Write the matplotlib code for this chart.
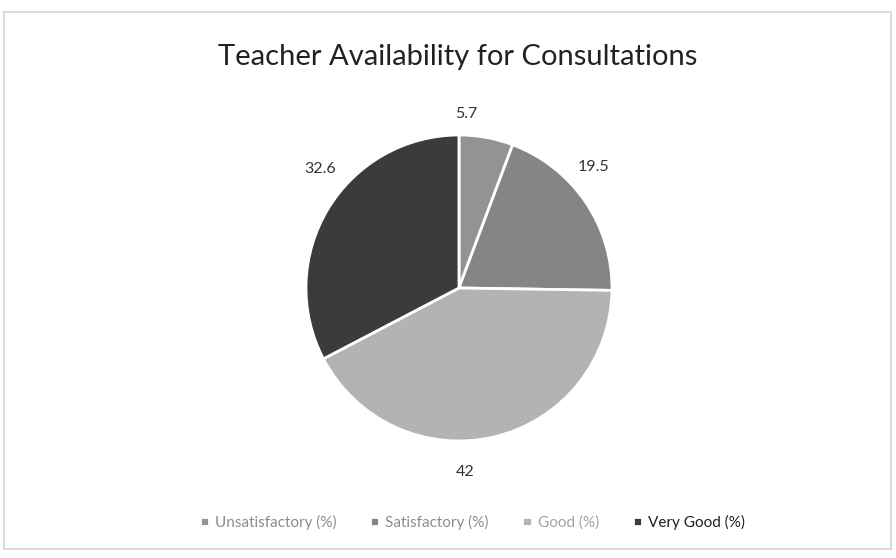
#!/usr/bin/env python3
"""Pie chart: teacher availability for consultations (percent of responses)."""
import matplotlib.pyplot as plt
from matplotlib.patches import Rectangle

categories = ["Unsatisfactory (%)", "Satisfactory (%)", "Good (%)", "Very Good (%)"]
values = [5.7, 19.5, 42, 32.6]
value_labels = ["5.7", "19.5", "42", "32.6"]

colors = ["#939393", "#858585", "#b3b3b3", "#3b3b3b"]
legend_text_colors = ["#8c8c8c", "#8c8c8c", "#a3a3a3", "#1e1e1e"]
# label anchor points in axes data units (pie radius = 1), as Excel placed them
label_xy = [(0.05, 1.14), (0.88, 0.79), (0.04, -1.20), (-0.91, 0.78)]

plt.rcParams["font.family"] = ["Lato", "DejaVu Sans"]

fig = plt.figure(figsize=(8.96, 5.58), dpi=100)
fig.patch.set_facecolor("white")
fig.add_artist(Rectangle((0.004, 0.016), 0.99, 0.962, transform=fig.transFigure,
                         fill=False, edgecolor="#d4d4d4", linewidth=1.2))

ax = fig.add_axes([0.5123 - 0.1708, 0.4839 - 0.2742, 0.3415, 0.5484])
wedges, texts = ax.pie(values, colors=colors, startangle=90, counterclock=False,
                       labels=value_labels, labeldistance=1.2,
                       wedgeprops=dict(edgecolor="white", linewidth=2),
                       textprops=dict(fontsize=11.5, color="#333333"))
for t, (x, y) in zip(texts, label_xy):
    t.set_position((x, y))
    t.set_ha("center")
    t.set_va("center")
ax.set_xlim(-1, 1)
ax.set_ylim(-1, 1)
ax.set_aspect("equal")

fig.text(0.511, 0.897, "Teacher Availability for Consultations", ha="center", va="center",
         fontsize=21, color="#222222")

leg = fig.legend(wedges, categories, loc="center", bbox_to_anchor=(0.527, 0.064), ncol=4,
                 frameon=False, fontsize=11, handlelength=0.6, handleheight=0.6,
                 handletextpad=0.4, columnspacing=2.2)
for txt, c in zip(leg.get_texts(), legend_text_colors):
    txt.set_color(c)

fig.savefig("out.png", dpi=100, facecolor="white")
plt.close(fig)
